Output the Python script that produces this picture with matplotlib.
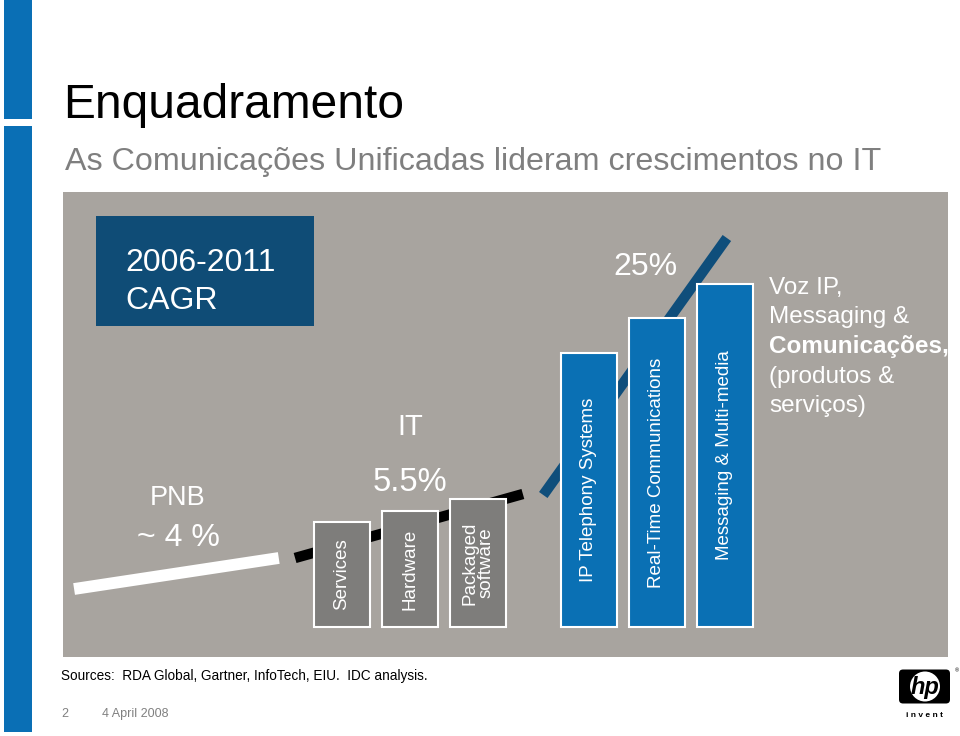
import numpy as np
import matplotlib
matplotlib.use('Agg')
import matplotlib.pyplot as plt
from matplotlib.patches import Rectangle, FancyBboxPatch, Circle

plt.rcParams['font.family'] = ['Liberation Sans', 'DejaVu Sans']

# --- data ---
it_segments = ['Services', 'Hardware', 'Packaged\nsoftware']
it_growth = [105, 116, 128]
uc_segments = ['IP Telephony Systems', 'Real-Time Communications', 'Messaging & Multi-media']
uc_growth = [274, 309, 343]

# trend lines (x in bar slots, y in growth units)
pnb_x = [-3.94, -0.93]
pnb_y = [38, 69]
it_x = [-0.69, 2.66]
it_y = [69, 133]
uc_x = [2.96, 5.66]
uc_y = [132, 389]

W, H = 960, 736
fig = plt.figure(figsize=(W / 100, H / 100), dpi=100)
fig.patch.set_facecolor('white')


def fx(px):
    return px / W


def fy(py):
    return 1 - py / H


# blue strip on the left
fig.patches.append(Rectangle((fx(4), fy(119)), 28 / W, 119 / H, transform=fig.transFigure,
                             facecolor='#0A6FB5', edgecolor='none'))
fig.patches.append(Rectangle((fx(4), fy(732)), 28 / W, (732 - 126) / H, transform=fig.transFigure,
                             facecolor='#0A6FB5', edgecolor='none'))

# titles
fig.text(fx(63), fy(118), 'Enquadramento', fontsize=34.5, color='black', va='baseline', ha='left')
fig.text(fx(65), fy(170), 'As Comunicações Unificadas lideram crescimentos no IT', fontsize=23.2,
         color='#7F7F7F', va='baseline', ha='left')

# main panel
ax = fig.add_axes([fx(63), fy(657), 885 / W, 465 / H])
ax.set_facecolor('#A8A49F')
for s in ax.spines.values():
    s.set_visible(False)
ax.set_xticks([])
ax.set_yticks([])
ax.set_xlim(-4.103, 8.912)
ax.set_ylim(-30, 435)

it_pos = np.arange(len(it_segments))
uc_pos = np.arange(len(uc_segments)) + 3.63
bw = 0.82

ax.plot(pnb_x, pnb_y, color='white', lw=8.5, solid_capstyle='butt', zorder=1)
ax.plot(it_x, it_y, color='black', lw=7.5, solid_capstyle='butt', zorder=1)
ax.plot(uc_x, uc_y, color='#0F4E7B', lw=7.5, solid_capstyle='butt', zorder=1)

ax.bar(it_pos, it_growth, width=bw, color='#7E7D7B', edgecolor='white', linewidth=1.5, zorder=2)
ax.bar(uc_pos, uc_growth, width=bw, color='#0A70B4', edgecolor='white', linewidth=1.5, zorder=2)

for x, h, lab in zip(it_pos, it_growth, it_segments):
    ax.text(x, h / 2, lab, rotation=90, ha='center', va='center', color='white',
            fontsize=13.5, linespacing=0.95, zorder=3)
for x, h, lab in zip(uc_pos, uc_growth, uc_segments):
    ax.text(x, h / 2, lab, rotation=90, ha='center', va='center', color='white',
            fontsize=13.5, zorder=3)

# CAGR box
fig.patches.append(Rectangle((fx(96), fy(326)), 218 / W, 110 / H, transform=fig.transFigure,
                             facecolor='#0F4C76', edgecolor='none', zorder=2))
fig.text(fx(125), fy(271), '2006-2011', fontsize=23, color='white', va='baseline', ha='left')
fig.text(fx(125), fy(309), 'CAGR', fontsize=23, color='white', va='baseline', ha='left')

# growth labels
fig.text(fx(178), fy(505), 'PNB', fontsize=19.5, color='white', va='baseline', ha='center')
fig.text(fx(178), fy(546), '~ 4 %', fontsize=23, color='white', va='baseline', ha='center')
fig.text(fx(410), fy(435), 'IT', fontsize=21, color='white', va='baseline', ha='center')
fig.text(fx(410), fy(491), '5.5%', fontsize=23.5, color='white', va='baseline', ha='center')
fig.text(fx(645), fy(275), '25%', fontsize=23, color='white', va='baseline', ha='center')

side_lines = ['Voz IP,', 'Messaging &', 'Comunicações,', '(produtos &', 'serviços)']
for i, t in enumerate(side_lines):
    fig.text(fx(769), fy(294 + 29.5 * i), t, fontsize=17.5, color='white', va='baseline', ha='left',
             fontweight='bold' if i == 2 else 'normal', zorder=4)

# footer
fig.text(fx(61), fy(680), 'Sources:  RDA Global, Gartner, InfoTech, EIU.  IDC analysis.', fontsize=9.8,
         color='black', va='baseline', ha='left')
fig.text(fx(61), fy(717), '2', fontsize=9, color='#808080', va='baseline', ha='left')
fig.text(fx(102), fy(717), '4 April 2008', fontsize=9, color='#808080', va='baseline', ha='left')

# hp logo
lg = fig.add_axes([fx(897), fy(705), 55 / W, 37 / H])
lg.set_xlim(0, 55)
lg.set_ylim(0, 37)
lg.set_axis_off()
lg.add_patch(FancyBboxPatch((2, 1.5), 51, 34, boxstyle='round,pad=0,rounding_size=4',
                            facecolor='black', edgecolor='none'))
lg.add_patch(Circle((28, 18.5), 15, facecolor='white', edgecolor='none'))
lg.text(27.5, 17.5, 'hp', fontsize=17, fontweight='bold', fontstyle='italic', color='black',
        ha='center', va='center')
fig.text(fx(924), fy(717), 'i n v e n t', fontsize=6, fontweight='bold', color='black',
         va='baseline', ha='center')
fig.text(fx(955), fy(672), '®', fontsize=4, color='black', va='baseline', ha='left')

fig.savefig('out.png', dpi=100, facecolor='white')
